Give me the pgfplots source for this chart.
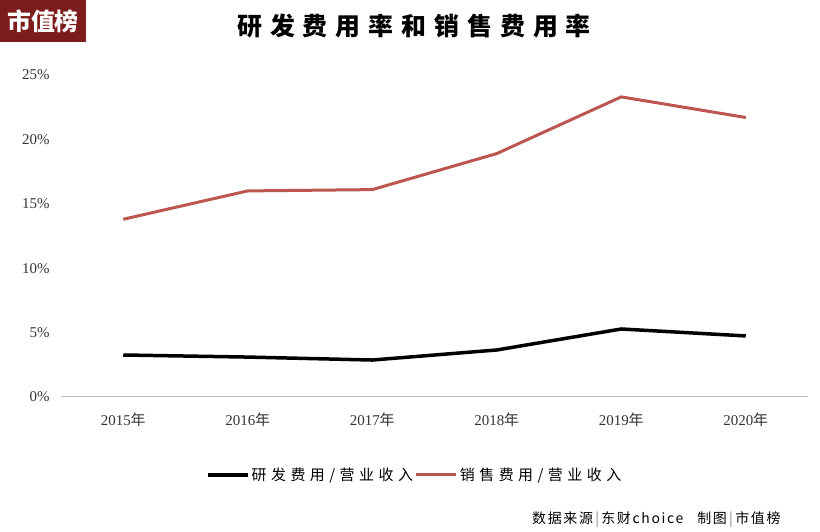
\documentclass[border=0pt]{standalone}
\usepackage{pgfplots}
\pgfplotsset{compat=1.18}
\usepackage{fontspec}
\setmainfont{Liberation Serif}
\newfontfamily\cjk{Noto Sans CJK SC}
\definecolor{redline}{RGB}{188,86,80}
\definecolor{logored}{RGB}{125,28,28}
\begin{document}
\begin{tikzpicture}[x=1bp,y=1bp]
\path[use as bounding box] (0,0) rectangle (820,532);
\fill[logored] (0,490) rectangle (86,532);
\node[text=white,font={\cjk\bfseries\fontsize{24}{24}\selectfont}] at (43,511) {市值榜};
\node[font={\cjk\bfseries\fontsize{25}{25}\selectfont\addfontfeatures{LetterSpace=32}}] at (414,506) {研发费用率和销售费用率};
\begin{axis}[
  at={(61bp,135bp)}, anchor=south west,
  scale only axis, width=747bp, height=322bp,
  xmin=-0.5, xmax=5.5, ymin=0, ymax=25,
  xtick={0,1,2,3,4,5},
  xticklabels={2015{\cjk 年},2016{\cjk 年},2017{\cjk 年},2018{\cjk 年},2019{\cjk 年},2020{\cjk 年}},
  ytick={0,5,10,15,20,25},
  yticklabel={\pgfmathprintnumber{\tick}\%},
  /pgf/number format/assume math mode=true,
  tick label style={font=\fontsize{15}{15}\selectfont, text=black!80},
  axis y line*=left,
  y axis line style={draw=none},
  axis x line*=bottom,
  x axis line style={draw=black!25, line width=1pt, -},
  major tick length=0pt,
  xticklabel style={yshift=-12bp},
  yticklabel style={xshift=-8bp},
  clip=false,
  legend style={at={(0.4735,-0.242)}, anchor=center, draw=none, fill=none,
    legend columns=2, font={\cjk\fontsize{15}{15}\selectfont\addfontfeatures{LetterSpace=30}},
    /tikz/every even column/.append style={column sep=0bp}},
  legend image code/.code={\draw[#1] (0bp,0bp) -- (40bp,0bp);},
]
\addplot[black, line width=3.5bp] coordinates {(0,3.26) (1,3.10) (2,2.87) (3,3.65) (4,5.28) (5,4.74)};
\addlegendentry{研发费用/营业收入}
\addplot[redline, line width=3bp] coordinates {(0,13.8) (1,16.0) (2,16.1) (3,18.9) (4,23.3) (5,21.7)};
\addlegendentry{销售费用/营业收入}
\end{axis}
\node[anchor=east, font={\cjk\fontsize{14}{14}\selectfont\addfontfeatures{LetterSpace=12}}] at (784,12) {数据来源\,\textcolor{black!50}{|}\,东财choice\quad 制图\,\textcolor{black!50}{|}\,市值榜};
\end{tikzpicture}
\end{document}
